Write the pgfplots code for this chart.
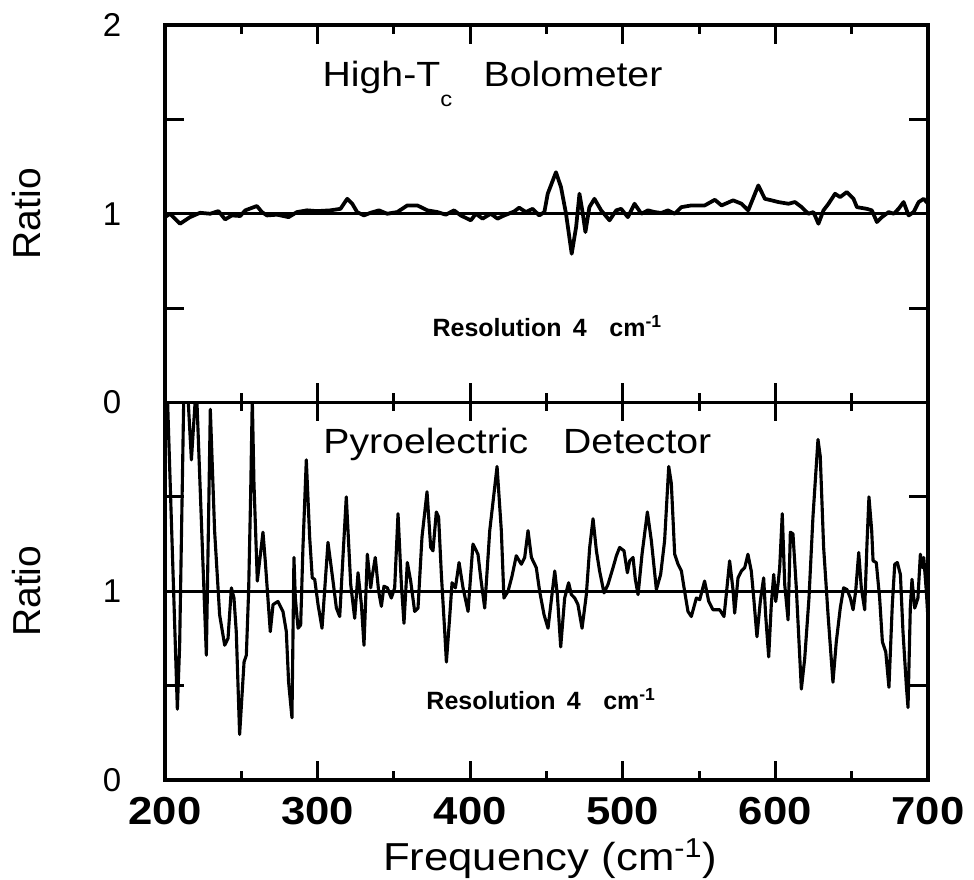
\documentclass[border=0pt]{standalone}
\usepackage{fontspec}
\setmainfont{Liberation Sans}
\newfontfamily\wide{Liberation Sans}[FakeStretch=1.12]
\usepackage{pgfplots}
\pgfplotsset{compat=1.18}

\pgfplotsset{
  panel/.style={
    scale only axis, width=305.2pt, height=151pt,
    xmin=200, xmax=700, ymin=0, ymax=2,
    axis line style={line width=1.5pt},
    xtick={200,300,...,700}, minor xtick={250,350,...,650},
    ytick={0,0.5,1,1.5,2},
    tick align=inside,
    major tick length=7.6pt, minor tick length=3.6pt,
    every tick/.style={line width=1.2pt, black},
    /pgf/number format/assume math mode=true,
    yticklabel style={font=\fontsize{13.2}{15}\selectfont, xshift=-14pt},
    ylabel={Ratio},
    ylabel style={font=\fontsize{15.6}{18}\selectfont,
      at={(axis description cs:-0.181,0.5)}, anchor=center},
  },
  curve/.style={black, line join=round, mark=none},
}
\tikzset{lab/.style={anchor=base west, inner xsep=0pt}}

\begin{document}
\begin{tikzpicture}
\path[use as bounding box] (-66pt,10pt) rectangle (323.6pt,-342pt);

% top panel: high-Tc bolometer
\begin{axis}[panel, name=top, at={(0,0)}, anchor=north west,
  xticklabels={}, yticklabels={0,,1,,2}]
\addplot[black, line width=1.1pt] coordinates {(200,1) (700,1)};
\addplot[curve, line width=1.5pt] coordinates {
(200,0.982) (203.3,1.0) (209.9,0.947) (216.4,0.982) (223,1.005) (229.6,1.0)
(235,1.014) (239.4,0.970) (243.8,0.991) (249.3,0.988) (252.6,1.018) (260.2,1.041)
(263.5,1.009) (266.8,0.991) (273.4,0.995) (281,0.982) (286.5,1.009) (293.1,1.018)
(299.7,1.014) (308.4,1.018) (315,1.026) (319.4,1.079) (322.7,1.053) (325.9,1.009)
(330.3,0.991) (334.7,1.005) (340.2,1.018) (345.6,1.0) (352.2,1.009) (358.8,1.044)
(365.4,1.044) (371.9,1.018) (378.5,1.009) (384,0.995) (389.4,1.018) (393.8,0.991)
(400.4,0.965) (403.7,1.0) (408.1,0.974) (413.5,1.0) (417.9,0.974) (422.3,0.991)
(428.8,1.012) (432.1,1.032) (436.5,1.009) (440.9,1.026) (445.3,0.991) (448.6,1.009)
(450.8,1.106) (456.2,1.220) (459.5,1.141) (462.8,1.0) (466.5,0.788) (469.4,0.929)
(471.6,1.106) (473.8,1.0) (475.5,0.903) (478.1,1.035) (481.4,1.079) (485.8,1.018)
(491.3,0.965) (495.7,1.018) (498.9,1.026) (503.3,0.982) (507.7,1.053) (512.1,1.0)
(516.5,1.018) (520.8,1.009) (525.2,1.004) (529.6,1.018) (534,1.0) (538.4,1.035)
(544.9,1.044) (553.7,1.044) (560.3,1.074) (564.7,1.044) (572.3,1.071) (577.8,1.053)
(582.2,1.018) (588.8,1.150) (593.1,1.079) (597.5,1.071) (601.9,1.062) (608.5,1.053)
(612.8,1.062) (617.2,1.035) (621.6,1.0) (624.9,1.009) (628.2,0.947) (631.5,1.018)
(634.8,1.053) (639.1,1.106) (642.4,1.088) (646.8,1.115) (651.2,1.079) (653.4,1.035)
(659.9,1.026) (663.2,1.018) (666.5,0.956) (669.8,0.982) (674.2,1.009) (677.5,1.0)
(680.7,1.026) (684,1.062) (687.3,0.991) (690.6,1.009) (693.9,1.062) (697.2,1.079)
(700,1.053)
};
\node[lab, font=\wide\fontsize{14}{16}\selectfont]
  at (axis cs:303,1.672)
  {High-T\raisebox{-8pt}{\fontsize{8.5}{10}\selectfont c}\hspace{0.9em}Bolometer};
\node[lab, font=\bfseries\fontsize{10}{12}\selectfont]
  at (axis cs:375,0.349)
  {Resolution\hspace{0.45em}4\hspace{0.9em}cm\textsuperscript{-1}};
\end{axis}

% bottom panel: pyroelectric detector
\begin{axis}[panel, at={(top.south west)}, anchor=north west,
  yticklabels={0,,1,,},
  xticklabel style={font=\wide\bfseries\fontsize{15.6}{18}\selectfont, yshift=-3.5pt},
  xlabel={Frequency (cm\textsuperscript{-1})},
  xlabel style={font=\wide\fontsize{15.6}{18}\selectfont,
    at={(axis description cs:0.505,-0.239)}, anchor=base}]
\addplot[black, line width=1.1pt] coordinates {(200,1) (700,1)};
\addplot[curve, line width=1.25pt] coordinates {
(200.9,2.21) (208.1,0.375) (209.6,0.714) (212.5,2.13) (214.6,2.1) (217.3,1.696)
(220.5,2.1) (227.1,0.661) (229.7,1.964) (232.5,1.321) (235.8,0.875) (239.1,0.714)
(241.3,0.75) (243.5,1.018) (245.2,0.964) (246.7,0.786) (248.9,0.241) (251.8,0.625)
(253.3,0.661) (254.8,1.0) (256.1,1.5) (257.2,2.02) (258.3,1.571) (260.5,1.054)
(264.2,1.313) (265.7,1.161) (269.0,0.786) (270.8,0.929) (274.0,0.946) (277.3,0.893)
(279.5,0.786) (281.0,0.518) (283.2,0.330) (284.5,1.179) (285.4,0.964) (287.2,0.804)
(288.9,0.821) (290.4,1.232) (292.6,1.696) (294.8,1.286) (296.5,1.071) (298.1,1.063)
(300.3,0.929) (302.9,0.804) (306.8,1.259) (310.1,1.054) (312.3,0.911) (314.5,0.866)
(316.6,1.179) (318.8,1.5) (321.7,1.036) (324.3,0.857) (326.5,1.098) (328.7,0.929)
(330.4,0.714) (332.6,1.196) (334.8,1.018) (335.6,1.071) (337.8,1.179) (340.0,1.0)
(341.8,0.920) (343.5,1.027) (345.7,1.018) (348.3,0.964) (350.5,1.018) (352.7,1.411)
(354.9,1.036) (356.6,0.830) (358.8,1.152) (361.0,1.054) (363.6,0.893) (365.8,0.911)
(368.4,1.286) (371.7,1.527) (374.1,1.232) (375.6,1.214) (377.8,1.420) (379.3,1.393)
(381.1,1.089) (383.3,0.786) (384.4,0.625) (386.5,0.857) (388.1,1.045) (390.3,1.018)
(392.7,1.152) (395.3,1.018) (398.6,0.893) (401.8,1.25) (405.1,1.196) (406.9,1.071)
(409.5,0.911) (412.8,1.321) (417.6,1.661) (420.4,1.321) (422.1,0.964) (424.8,1.0)
(427.4,1.080) (430.2,1.188) (433.5,1.143) (435.7,1.179) (437.9,1.321) (440.1,1.179)
(443.3,1.125) (445.5,1.0) (448.4,0.875) (451.0,0.804) (455.4,1.107) (457.1,0.982)
(459.3,0.705) (461.9,0.964) (464.5,1.045) (466.3,0.982) (468.5,0.964) (470.6,0.929)
(473.3,0.804) (476.1,0.982) (478.3,1.232) (480.5,1.384) (482.7,1.214) (484.8,1.107)
(487.7,0.991) (490.3,1.036) (493.6,1.125) (495.8,1.188) (497.9,1.232) (500.8,1.214)
(503.0,1.098) (504.5,1.161) (506.7,1.179) (508.2,1.063) (510.0,0.982) (512.6,1.196)
(516.1,1.420) (518.7,1.268) (522.0,1.009) (524.8,1.089) (527.4,1.268) (530.1,1.661)
(531.8,1.571) (534.0,1.196) (536.2,1.143) (538.4,1.107) (540.5,1.0) (542.7,0.893)
(544.9,0.866) (548.2,0.964) (550.4,0.955) (553.6,1.054) (556.3,0.946) (559.1,0.902)
(563.5,0.902) (566.3,0.866) (567.8,0.982) (570.0,1.161) (572.2,1.009) (573.3,0.884)
(575.5,1.071) (577.7,1.107) (579.9,1.125) (582.0,1.196) (584.2,1.107) (585.8,0.964)
(587.9,0.759) (590.1,0.946) (592.3,1.071) (593.6,0.875) (595.6,0.652) (597.3,0.929)
(598.9,1.089) (600.2,0.946) (601.7,1.036) (602.8,1.125) (604.5,1.411) (606.1,1.036)
(608.3,0.848) (609.8,1.313) (611.5,1.304) (613.7,1.018) (617.0,0.482) (619.2,0.643)
(622.0,0.964) (624.6,1.393) (627.9,1.804) (629.4,1.714) (631.6,1.232) (634.5,0.875)
(637.7,0.518) (639.9,0.732) (642.5,0.911) (644.7,1.018) (646.9,1.009) (649.1,0.964)
(650.9,0.902) (652.6,1.0) (654.6,1.205) (656.3,1.018) (658.5,0.902) (660.0,1.25)
(661.3,1.5) (663.1,1.321) (664.0,1.161) (666.1,1.152) (668.3,0.964) (670.1,0.732)
(672.3,0.679) (674.4,0.491) (676.6,0.929) (678.2,1.143) (679.9,1.152) (681.9,1.089)
(683.6,0.786) (685.8,0.5) (686.9,0.384) (688.4,0.911) (689.5,1.063) (691.3,0.911)
(693.4,0.964) (695.0,1.196) (696.3,1.125) (697.2,1.179) (698.9,1.0) (700,0.85)
};
\node[lab, font=\wide\fontsize{14}{16}\selectfont]
  at (axis cs:303.5,1.729) {Pyroelectric\hspace{1em}Detector};
\node[lab, font=\bfseries\fontsize{10}{12}\selectfont]
  at (axis cs:371,0.374)
  {Resolution\hspace{0.45em}4\hspace{0.9em}cm\textsuperscript{-1}};
\end{axis}
\end{tikzpicture}
\end{document}
